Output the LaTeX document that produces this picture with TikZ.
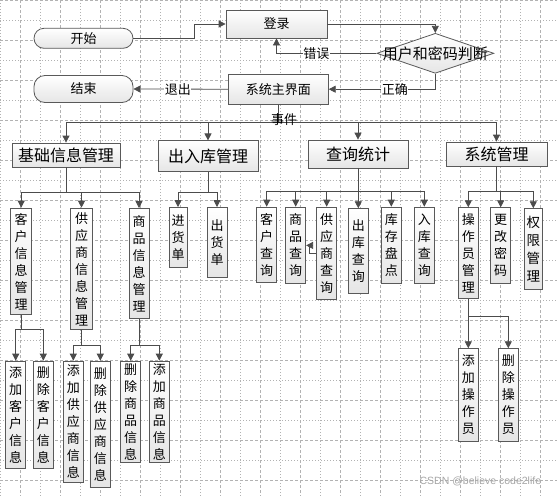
\documentclass[tikz,border=0pt]{standalone}
\usepackage{fontspec}
\setmainfont{Noto Sans CJK SC}
\newfontfamily\markfont{Liberation Sans}
\usepackage{tikz}
\usetikzlibrary{positioning}
\usetikzlibrary{shapes.geometric}
\usetikzlibrary{arrows.meta}

\begin{document}
\begin{tikzpicture}[
                x = 1pt, y = -1pt,
                box/.style = {
                    draw = black!65,
                    line width = 0.8pt,
                    top color = white,
                    bottom color = black!10,
                    inner sep = 0pt,
                    font = \fontsize{13}{15}\selectfont
                },
                head/.style = {
                    box,
                    minimum height = #1,
                    font = \fontsize{16}{18}\selectfont
                },
                head/.default = 24pt,
                vbox/.style = {
                    box,
                    align = center,
                    anchor = north,
                    minimum width = 20pt,
                    minimum height = #1,
                    font = \fontsize{13}{17}\selectfont
                },
                vbox/.default = 76pt,
                link/.style = {
                    draw = black!70,
                    line width = 0.8pt,
                    -{Triangle[length=7pt, width=7pt]}
                },
                lbl/.style = {
                    font = \fontsize{13}{15}\selectfont,
                    fill = white,
                    inner sep = 0.5pt
                },
                gridmajor/.style = {black!30, line width = 0.6pt, dash pattern = on 3pt off 2pt},
                gridminor/.style = {black!30, line width = 0.6pt, dash pattern = on 1pt off 2pt}
            ]

            \useasboundingbox (0,0) rectangle (557,496);
            \fill[white] (0,0) rectangle (557,496);

            % grid
            \foreach \x in {0,40,...,520} \draw[gridminor] (\x,0) -- (\x,496);
            \foreach \x in {20,60,...,540} \draw[gridmajor] (\x,0) -- (\x,496);
            \foreach \y in {0,40,...,480} \draw[gridmajor] (0,\y) -- (557,\y);
            \foreach \y in {20,60,...,460} \draw[gridminor] (0,\y) -- (557,\y);

            \node[box, rounded corners=10pt, minimum width=99pt, minimum height=20pt] (start) at (83.5,38.3) {开始};
            \node[box, minimum width=101pt, minimum height=28pt] (login) at (276.5,24) {登录};
            \node[box, diamond, minimum width=117pt, minimum height=40pt,
                  label={[font=\fontsize{15}{17}\selectfont]center:用户和密码判断}] (check) at (435.3,53.3) {};
            \node[box, rounded corners=11pt, minimum width=99pt, minimum height=27pt] (stop) at (83.5,89) {结束};
            \node[box, minimum width=100pt, minimum height=30pt] (main) at (278.3,89.2) {系统主界面};

            \node[head, minimum width=108pt] (base) at (66,155) {基础信息管理};
            \node[head=31pt, minimum width=100pt] (stock) at (208,156.3) {出入库管理};
            \node[head=28pt, minimum width=100pt] (query) at (358,154) {查询统计};
            \node[head, minimum width=101pt] (sys) at (496.5,154) {系统管理};

            \node[vbox=106.6pt, minimum width=21pt] (base1) at (21.2,207.7) {客\\户\\信\\息\\管\\理};
            \node[vbox=121.6pt, minimum width=21.6pt] (base2) at (81.5,207.7) {供\\应\\商\\信\\息\\管\\理};
            \node[vbox=110pt] (base3) at (139,208) {商\\品\\信\\息\\管\\理};

            \node[vbox=60pt, minimum width=18pt] (stock1) at (178,207) {进\\货\\单};
            \node[vbox=70pt] (stock2) at (217,207) {出\\货\\单};

            \node[vbox=75pt] (query1) at (266.7,206.7) {客\\户\\查\\询};
            \node[vbox=76.6pt] (query2) at (295.7,206.7) {商\\品\\查\\询};
            \node[vbox=92.6pt] (query3) at (326.7,206.7) {供\\应\\商\\查\\询};
            \node[vbox=84.4pt] (query4) at (358.3,208.3) {出\\库\\查\\询};
            \node[vbox=76pt, minimum width=20.7pt] (query5) at (391.3,206.7) {库\\存\\盘\\点};
            \node[vbox=76pt] (query6) at (424.3,206.7) {入\\库\\查\\询};

            \node[vbox=91pt] (sys1) at (468.3,207.3) {操\\作\\员\\管\\理};
            \node[vbox=75.4pt] (sys2) at (500.7,207.3) {更\\改\\密\\码};
            \node[vbox=81pt, minimum width=18pt, font=\fontsize{13.5}{18}\selectfont] (sys3) at (533.3,208.3) {权\\限\\管\\理};

            \node[vbox=107.6pt] (base11) at (15.7,360.7) {添\\加\\客\\户\\信\\息};
            \node[vbox=107.6pt] (base12) at (43.3,360.7) {删\\除\\客\\户\\信\\息};
            \node[vbox=121.6pt] (base21) at (73.3,360.7) {添\\加\\供\\应\\商\\信\\息};
            \node[vbox=126.6pt, minimum width=20.7pt] (base22) at (100.3,360.7) {删\\除\\供\\应\\商\\信\\息};
            \node[vbox=101.6pt] (base31) at (130.7,360.7) {删\\除\\商\\品\\信\\息};
            \node[vbox=101.6pt] (base32) at (159.3,360.7) {添\\加\\商\\品\\信\\息};

            \node[vbox=92.7pt] (sys11) at (468.3,348.3) {添\\加\\操\\作\\员};
            \node[vbox=92.7pt] (sys12) at (508.3,348.3) {删\\除\\操\\作\\员};

            \draw[link] (start.east) -- ++(61,0) |- (login.west);
            \draw[link] (login.east) -| (check.north);
            \draw[link] (check.west) -| node[lbl, pos=0.3]{错误} (login.south);
            \draw[link] (check.south) |- node[lbl, pos=0.69]{正确} (main.east);
            \draw[link] (main.west) -- node[lbl, pos=0.53]{退出} (stop.east);

            \foreach \n in {base, stock, query, sys}
                \draw[link] (main.south) -- ++(0,18) -| (\n.north);
            \node[font=\fontsize{13}{15}\selectfont, inner sep=0pt] (event) at (284,119.5) {事件};

            \foreach \n in {base1, base2, base3}
                \draw[link] (base.south) -- ++(0,25) -| (\n.north);
            \foreach \n in {stock1, stock2}
                \draw[link] (stock.south) -- ++(0,20) -| (\n.north);
            \foreach \n in {query1, query2, query3, query4, query5, query6}
                \draw[link] (query.south) -- ++(0,23) -| (\n.north);
            \foreach \n in {sys1, sys2, sys3}
                \draw[link] (sys.south) -- ++(0,25) -| (\n.north);

            \draw[link] (query3.west) -- ++(-6.7,0) |- (query2.east);

            \foreach \n in {base11, base12}
                \draw[link] (base1.south) -- ++(0,14) -| (\n.north);
            \foreach \n in {base21, base22}
                \draw[link] (base2.south) -- ++(0,15) -| (\n.north);
            \foreach \n in {base31, base32}
                \draw[link] (base3.south) -- ++(0,26.3) -| (\n.north);
            \foreach \n in {sys11, sys12}
                \draw[link] (sys1.south) -- ++(0,17.7) -| (\n.north);

            \node[font=\markfont\fontsize{10.5}{12}\selectfont, text=black!35, inner sep=0pt] (mark) at (480.4,481.7) {CSDN @believe code2life};

         \end{tikzpicture}
\end{document}
